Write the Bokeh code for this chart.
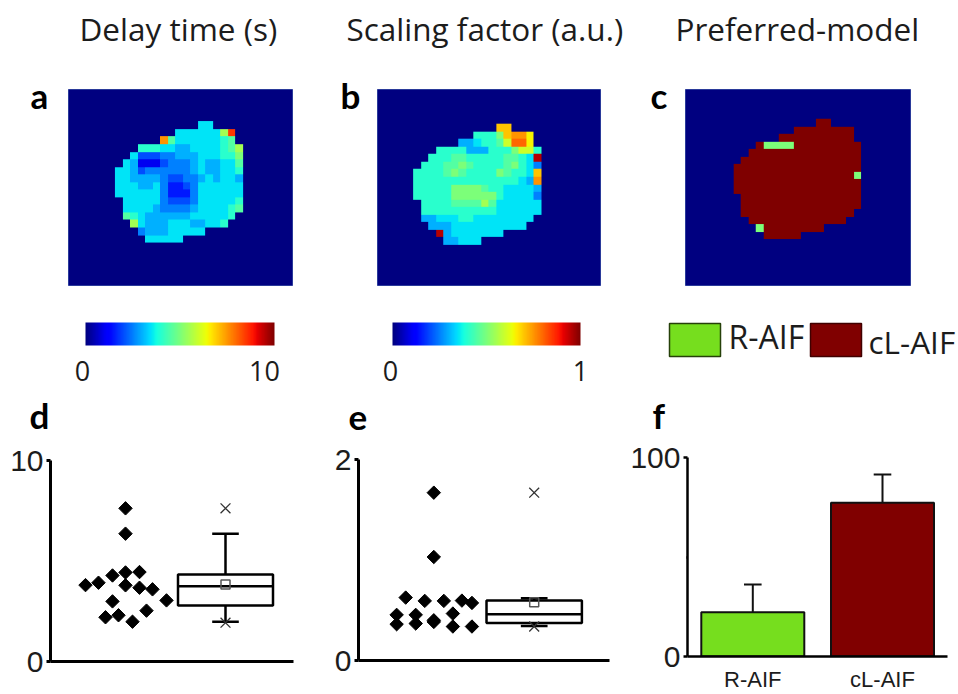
import numpy as np
from bokeh.plotting import figure
from bokeh.layouts import column, row
from bokeh.models import Range1d, LinearColorMapper, FixedTicker
from bokeh.core.properties import value
from bokeh.embed import file_html
from bokeh.resources import INLINE

TITLES = ["Delay time (s)", "Scaling factor (a.u.)", "Preferred-model"]
LEVELS = ".123456789ABCDEFGHIJK"   # each character is a twentieth of the colour scale

GRID_A = [
 "", "", "", "",
 "................." "77",
 ".............." "777777BH",
 "............" "F97777778" "9",
 "........." "88877667777" "89B",
 "........" "7444556667778" "8A",
 "......." "76222455567667" "79",
 "......" "7764555555" "6766778",
 "......" "776666" "54455" "676776",
 "......" "777667" "53345" "777777",
 "......" "777777" "53335" "777777",
 "......." "77777" "54445" "777778",
 "......." "7777" "6" "5555" "6" "77778" "9",
 "......." "9876" "66666" "777778",
 "........" "B7666" "77766" "778",
 "........." "566677777",
 ".........." "77777",
]
GRID_B = [
 "", "", "", "", "",
 "................" "EE",
 "............." "888AEFFD",
 "..........." "667889CGGD",
 "........" "88886668" "88ACC8",
 "......." "88899888889987" "J",
 "......" "88899A988889A87" "5",
 "....." "8888" "9A9" "8888" "A9" "88" "7" "E",
 "....." "8888888888888876" "F",
 "....." "88888" "AAAA" "9" "88" "7777" "6",
 "....." "88888" "AAAA" "AA" "8" "7777" "5",
 "......" "8888" "9999" "B9" "777777",
 "......" "888" "88888" "88" "777777",
 "......" "667778877777777",
 "......." "6667777777777",
 "........" "J67777777",
 "........." "66777",
]
GRID_C = [
 "", "", "", "",
 "................." "KK",
 ".............." "KKKKKKKK",
 "............" "KKKKKKKKKK",
 "........." "KAAAAKKKKKKKKK",
 "........" + "K" * 15,
 "......." + "K" * 16,
 "......" + "K" * 17,
 "......" + "K" * 16 + "A",
 "......" + "K" * 17,
 "......" + "K" * 17,
 "......." + "K" * 16,
 "......." + "K" * 16,
 "......." + "K" * 15,
 "........" + "K" * 13,
 "........." "A" + "K" * 8,
 ".........." + "K" * 5,
]

D_DOT_X = [75, 75, 62, 75, 89, 35, 48, 75, 89, 102, 62, 116, 96, 55, 68, 82]
D_DOT_Y = [7.62, 6.36, 4.28, 4.43, 4.45, 3.80, 3.92, 3.79, 3.67, 3.59, 2.99, 3.04, 2.53, 2.20, 2.30, 1.98]
D_BOX = dict(q1=2.78, med=3.75, q3=4.33, mean=3.83, lo=1.98, hi=6.36)
D_OUT = [7.62, 1.93]

E_DOT_X = [75, 75, 47, 66, 85, 103, 113, 38, 57, 94, 75, 75, 38, 57, 94, 113]
E_DOT_Y = [1.67, 1.03, 0.626, 0.593, 0.593, 0.596, 0.573, 0.454, 0.454, 0.467, 0.40, 0.384, 0.361, 0.368, 0.338, 0.338]
E_BOX = dict(q1=0.374, med=0.46, q3=0.596, mean=0.58, lo=0.344, hi=0.62)
E_OUT = [1.67, 0.338]

F_NAMES = ["R-AIF", "cL-AIF"]
F_VALUES = [22.2, 77.3]
F_ERRORS = [14.0, 14.1]
F_COLORS = ["#76DE1E", "#800000"]

vs = np.linspace(0, 1, 256)
def _c(xp, fp):
    return np.interp(vs, xp, fp)
R = _c([0, .35, .66, .89, 1], [0, 0, 1, 1, .5])
G = _c([0, .125, .375, .64, .91, 1], [0, 0, 1, 1, 0, 0])
B = _c([0, .11, .34, .65, 1], [.5, 1, 1, 0, 0])
JET = ["#%02x%02x%02x" % (int(r * 255), int(g * 255), int(b * 255)) for r, g, b in zip(R, G, B)]
mapper = LinearColorMapper(palette=JET, low=0, high=1, nan_color="#00000000")

NROWS, NCOLS = 27, 30
def grid_values(rows):
    rows = rows + [""] * (NROWS - len(rows))
    arr = np.array([[np.nan if ch == "." else LEVELS.index(ch) / 20 for ch in r.ljust(NCOLS, ".")] for r in rows])
    return np.flipud(arr)

def canvas(page_left, page_top, w, h):
    """A figure whose frame is the whole canvas, its data units being page pixels (y measured upward)."""
    p = figure(width=w, height=h, min_border=0, toolbar_location=None, output_backend="svg",
               frame_align=False, x_range=Range1d(page_left, page_left + w),
               y_range=Range1d(-(page_top + h), -page_top), x_axis_location=None, y_axis_location=None,
               outline_line_color=None, tools="")
    p.grid.visible = False
    return p

def lab(p, px, py, text, size, bold=False, align="left", font="Open Sans", color="#1c1c1c"):
    p.text([px], [-(py - 0.38 * size)], text=[text], text_font=value(font), text_font_size=value(f"{size}px"),
           text_color=color, text_font_style="bold" if bold else "normal", text_align=align,
           text_baseline="alphabetic")

def heat(rows, page_left, w, fl, fw, xr, yr, title, tx, letter, lx):
    ft, fh = 89, 196
    p = canvas(page_left, 0, w, 300)
    p.quad(left=[fl], right=[fl + fw], top=[-ft], bottom=[-(ft + fh)], fill_color="#000080", line_color="#2a3a9a")
    cw, ch = fw / (xr[1] - xr[0]), fh / (yr[1] - yr[0])
    p.image(image=[grid_values(rows)], x=fl - xr[0] * cw, y=-(ft + (NROWS - yr[0]) * ch),
            dw=NCOLS * cw, dh=NROWS * ch, color_mapper=mapper)
    lab(p, tx, 40, title, 31.5)
    lab(p, lx, 108, letter, 35, bold=True, font="Lato", color="black")
    return p

pa = heat(GRID_A, 0, 330, 68, 224, (-0.18, 29.64), (-0.33, 25.63), TITLES[0], 79, "a", 30)
pb = heat(GRID_B, 330, 310, 377, 223, (0.2, 29.98), (0.38, 26.4), TITLES[1], 346, "b", 340)
pc = heat(GRID_C, 640, 318, 685, 225, (-0.4, 29.64), (-0.03, 26.1), TITLES[2], 675, "c", 650)

def bar(page_left, w, fl, fw, high_text, hx, lx):
    p = canvas(page_left, 300, w, 95)
    p.image(image=[np.linspace(0, 1, 256).reshape(1, -1)], x=fl, y=-345, dw=fw, dh=23, color_mapper=mapper)
    lab(p, lx, 381, "0", 27, align="center")
    lab(p, hx, 381, high_text, 27, align="center")
    return p

ba = bar(0, 330, 85, 189, "10", 264, 82)
bb = bar(330, 310, 392, 188, "1", 580, 390)

leg = canvas(640, 300, 318, 95)
leg.quad(left=[669, 810], right=[720, 861], top=[-323, -323], bottom=[-356, -356],
         fill_color=F_COLORS, line_color=["#26400a", "#400000"], line_width=1.5)
lab(leg, 728, 348, F_NAMES[0], 32)
lab(leg, 868, 353, F_NAMES[1], 31.5)

STRIP = 44
strips = [canvas(0, 395, 320, STRIP), canvas(320, 395, 305, STRIP), canvas(625, 395, 333, STRIP)]
for s, lx, ly, letter in zip(strips, [29, 348, 652], [428, 430, 428], "def"):
    lab(s, lx, ly, letter, 35, bold=True, font="Lato", color="black")

def axes_fig(page_left, w, fl, fw, top, fh, ymax, xmax, ticks, minor, lw):
    left = fl - page_left
    H = 299 - STRIP
    p = figure(width=w, height=H, min_border_left=left, min_border_right=w - left - fw,
               min_border_top=top - STRIP, min_border_bottom=H - (top - STRIP) - fh, toolbar_location=None,
               output_backend="svg", frame_align=False,
               x_range=Range1d(0, xmax), y_range=Range1d(0, ymax), outline_line_color=None, tools="")
    p.grid.visible = False
    p.xaxis.ticker = FixedTicker(ticks=[])
    p.xaxis.major_label_text_font_size = "0px"
    p.xaxis.axis_line_width = lw
    p.xaxis.axis_line_color = "black"
    p.yaxis.ticker = FixedTicker(ticks=ticks, minor_ticks=minor)
    p.yaxis.axis_line_width = lw
    p.yaxis.axis_line_color = "black"
    p.yaxis.major_tick_line_width = lw
    p.yaxis.major_tick_line_color = "black"
    p.yaxis.major_tick_in = 0
    p.yaxis.major_tick_out = 4
    p.yaxis.minor_tick_line_width = lw
    p.yaxis.minor_tick_line_color = "black"
    p.yaxis.minor_tick_in = 0
    p.yaxis.minor_tick_out = 1
    p.yaxis.major_label_text_font = "Liberation Sans"
    p.yaxis.major_label_text_font_size = "30px"
    p.yaxis.major_label_text_color = "#1c1c1c"
    p.yaxis.major_label_standoff = 3
    return p

def box_panel(p, dot_x, dot_y, b, out, cx, half, cap):
    p.scatter(dot_x, dot_y, marker="square", angle=np.pi / 4, size=9.5, fill_color="black", line_color="black")
    p.segment([cx, cx], [b["q3"], b["q1"]], [cx, cx], [b["hi"], b["lo"]], line_color="black", line_width=2.5)
    p.segment([cx - cap, cx - cap], [b["hi"], b["lo"]], [cx + cap, cx + cap], [b["hi"], b["lo"]],
              line_color="black", line_width=2.5)
    p.quad(left=[cx - half], right=[cx + half], top=[b["q3"]], bottom=[b["q1"]],
           fill_color="white", line_color="black", line_width=2.5)
    p.segment([cx - half], [b["med"]], [cx + half], [b["med"]], line_color="black", line_width=2.5)
    p.scatter([cx], [b["mean"]], marker="square", size=9, fill_color=None, line_color="#555555", line_width=1.5)
    p.scatter([cx, cx], out, marker="x", size=14, line_color="#333333", line_width=1.3)

pd_ = axes_fig(0, 320, 50, 243, 65, 201, 10, 243, [0, 10], [5], 3)
box_panel(pd_, D_DOT_X, D_DOT_Y, D_BOX, D_OUT, 175, 47.5, 13.3)

pe = axes_fig(320, 305, 358, 251, 64, 201, 2, 250, [0, 2], [1], 3)
box_panel(pe, E_DOT_X, E_DOT_Y, E_BOX, E_OUT, 175, 47.5, 13.3)

pf = axes_fig(625, 333, 687, 260, 62, 203, 100, 260, [0, 100], [50], 2.5)
centers = [65.3, 195.0]
tops = [v + e for v, e in zip(F_VALUES, F_ERRORS)]
pf.segment(centers, F_VALUES, centers, tops, line_color="#111111", line_width=2)
pf.segment([c - 8.8 for c in centers], tops, [c + 8.8 for c in centers], tops, line_color="#111111", line_width=2)
pf.vbar(x=centers, width=103, top=F_VALUES, bottom=0, fill_color=F_COLORS, line_color="#111111", line_width=2)
pf.xaxis.ticker = FixedTicker(ticks=centers)
pf.xaxis.major_label_overrides = {c: n for c, n in zip(centers, F_NAMES)}
pf.xaxis.major_tick_line_color = None
pf.xaxis.major_tick_out = 0
pf.xaxis.minor_tick_line_color = None
pf.xaxis.major_label_text_font = "Liberation Sans"
pf.xaxis.major_label_text_font_size = "22px"
pf.xaxis.major_label_text_color = "#1c1c1c"
pf.xaxis.major_label_standoff = 10

page = column(row(pa, pb, pc, spacing=0), row(ba, bb, leg, spacing=0),
              row(*strips, spacing=0), row(pd_, pe, pf, spacing=0), spacing=0)
open("out.html", "w").write(file_html(page, INLINE))
